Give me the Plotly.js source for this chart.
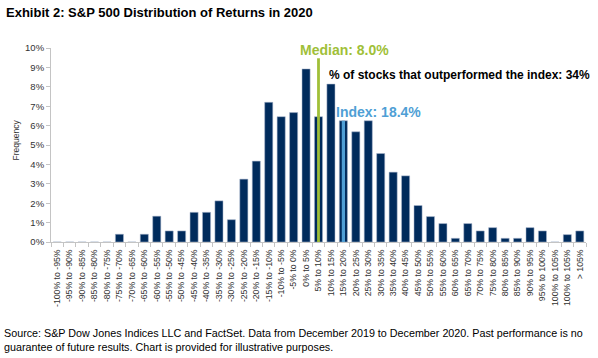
<!DOCTYPE html>
<html>
<head>
<meta charset="utf-8">
<script src="https://cdn.plot.ly/plotly-3.0.1.min.js"></script>
<style>html,body{margin:0;padding:0;background:#fff;}#chart{width:598px;height:358px;}</style>
</head>
<body>
<div id="chart"></div>
<script>
// Tick labels / categories (as printed on the original chart)
var categories = [
  "-100% to -95%", "-95% to -90%", "-90% to -85%", "-85% to -80%", "-80% to -75%",
  "-75% to -70%", "-70% to -65%", "-65% to -60%", "-60% to -55%", "-55% to -50%",
  "-50% to -45%", "-45% to -40%", "-40% to -35%", "-35% to -30%", "-30% to -25%",
  "-25% to -20%", "-20% to -15%", "-15% to -10%", "-10% to -5%", "-5% to 0%",
  "0% to 5%", "5% to 10%", "10% to 15%", "15% to 20%", "20% to 25%",
  "25% to 30%", "30% to 35%", "35% to 40%", "40% to 45%", "45% to 50%",
  "50% to 55%", "55% to 60%", "60% to 65%", "65% to 70%", "70% to 75%",
  "75% to 80%", "80% to 85%", "85% to 90%", "90% to 95%", "95% to 100%",
  "100% to 105%", "100% to 105%", "> 105%"
];
// Frequency (% of stocks) per bin
var frequency = [
  0, 0, 0, 0, 0,
  0.40, 0, 0.40, 1.33, 0.57,
  0.57, 1.53, 1.53, 2.12, 1.15,
  3.24, 4.17, 7.20, 6.46, 6.67,
  8.92, 6.46, 8.14, 6.25, 5.68,
  6.25, 4.56, 3.60, 3.41, 1.88,
  1.31, 0.95, 0.19, 0.95, 0.57,
  0.74, 0.19, 0.19, 0.74, 0.57,
  0, 0.38, 0.57
];
var yTickVals = [0, 1, 2, 3, 4, 5, 6, 7, 8, 9, 10];
var yTickText = ["0%", "1%", "2%", "3%", "4%", "5%", "6%", "7%", "8%", "9%", "10%"];
var medianBin = 21;      // "5% to 10%"  (median 8.0%)
var indexBin = 23;       // "15% to 20%" (index 18.4%)
var medianLineTop = 9.47;
var medianText = "Median: 8.0%";
var indexText = "Index: 18.4%";
var outperfText = "% of stocks that outperformed the index: 34%";
var titleText = "Exhibit 2: S&P 500 Distribution of Returns in 2020";
var sourceText = "Source: S&P Dow Jones Indices LLC and FactSet. Data from December 2019 to December 2020. Past performance is no<br>guarantee of future results. Chart is provided for illustrative purposes.";

var FONT = "Arial, 'Liberation Sans', sans-serif";
var NAVY = "#002b5c";
var GREEN = "#a0bf38";
var LIGHTBLUE = "#4f9fd5";
var AXIS = "#c4c4c4";

var xIdx = categories.map(function (_, i) { return i; });

var bars = {
  type: "bar",
  x: xIdx,
  y: frequency,
  width: 0.65,
  marker: { color: NAVY, line: { color: "rgba(170,182,205,0.9)", width: 0.6 } },
  hoverinfo: "skip"
};
var indexBar = {
  type: "bar",
  x: [indexBin],
  y: [frequency[indexBin]],
  width: 0.26,
  marker: { color: LIGHTBLUE, line: { width: 0 } },
  hoverinfo: "skip"
};

var layout = {
  width: 598,
  height: 358,
  margin: { l: 51, r: 12, t: 48, b: 116 },
  paper_bgcolor: "#ffffff",
  plot_bgcolor: "#ffffff",
  showlegend: false,
  barmode: "overlay",
  font: { family: FONT, color: "#222" },
  title: {
    text: "<b>" + titleText + "</b>",
    font: { family: FONT, size: 13, color: "#000" },
    xref: "container", yref: "container",
    x: 6 / 598, xanchor: "left",
    y: 1 - 12 / 358, yanchor: "middle"
  },
  xaxis: {
    range: [-0.5, categories.length - 0.5],
    tickmode: "array",
    tickvals: xIdx,
    ticktext: categories,
    tickangle: -90,
    ticks: "",
    ticklabelstandoff: 3,
    tickfont: { family: FONT, size: 8.7, color: "#333" },
    showline: true, linecolor: AXIS, linewidth: 1,
    showgrid: false, zeroline: false, fixedrange: true,
    minor: { tickmode: "linear", tick0: -0.5, dtick: 1, ticks: "outside", ticklen: 4, tickcolor: AXIS, tickwidth: 1, showgrid: false }
  },
  yaxis: {
    range: [0, 10],
    tickmode: "array",
    tickvals: yTickVals,
    ticktext: yTickText,
    ticks: "outside", ticklen: 4, tickcolor: AXIS, tickwidth: 1,
    tickfont: { family: FONT, size: 9.5, color: "#333" },
    showline: true, linecolor: AXIS, linewidth: 1,
    showgrid: false, zeroline: false, fixedrange: true
  },
  shapes: [
    {
      type: "line", xref: "x", yref: "y",
      x0: medianBin, x1: medianBin, y0: 0, y1: medianLineTop,
      line: { color: GREEN, width: 2.8 }, layer: "above"
    }
  ],
  annotations: [
    {
      text: "Frequency", textangle: -90, showarrow: false,
      xref: "paper", yref: "paper",
      x: (15.5 - 51) / 535, y: (242 - 140) / 194,
      xanchor: "center", yanchor: "middle",
      font: { family: FONT, size: 8.5, color: "#333" }
    },
    {
      text: "<b>" + medianText + "</b>", showarrow: false,
      xref: "x", yref: "y",
      x: medianBin - 1.64, y: 9.9,
      xanchor: "left", yanchor: "middle",
      font: { family: FONT, size: 14, color: GREEN }
    },
    {
      text: "<b>" + outperfText + "</b>", showarrow: false,
      xref: "x", yref: "y",
      x: medianBin + 0.69, y: 8.61,
      xanchor: "left", yanchor: "middle",
      font: { family: FONT, size: 12, color: "#000" }
    },
    {
      text: "<b>" + indexText + "</b>", showarrow: false,
      xref: "x", yref: "y",
      x: indexBin - 0.75, y: 6.7,
      xanchor: "left", yanchor: "middle",
      font: { family: FONT, size: 14, color: LIGHTBLUE }
    },
    {
      text: sourceText, showarrow: false, align: "left",
      xref: "paper", yref: "paper",
      x: (2 - 51) / 535, y: (242 - 340) / 194,
      xanchor: "left", yanchor: "middle",
      font: { family: FONT, size: 10.75, color: "#000" }
    }
  ]
};

Plotly.newPlot("chart", [bars, indexBar], layout, { staticPlot: true, displayModeBar: false });
</script>
</body>
</html>
